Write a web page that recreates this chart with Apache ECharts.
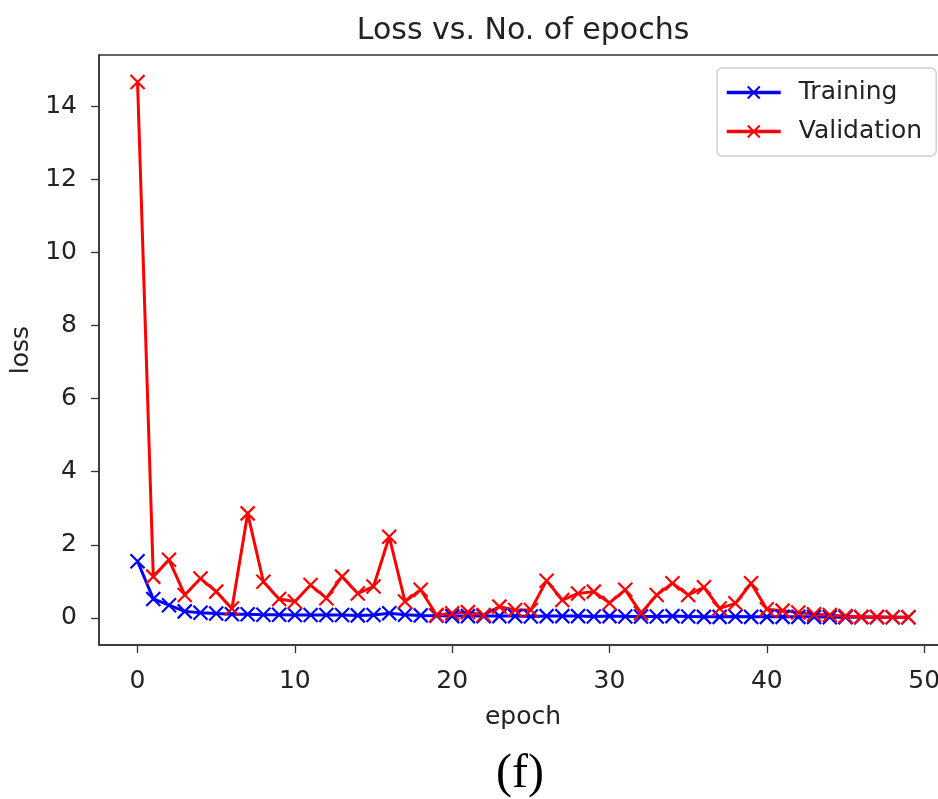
<!DOCTYPE html>
<html>
<head>
<meta charset="utf-8">
<script src="https://cdn.jsdelivr.net/npm/echarts@6/dist/echarts.min.js"></script>
<style>
  html, body { margin:0; padding:0; background:#fff; }
  #main { width:938px; height:799px; }
</style>
</head>
<body>
<div id="main"></div>
<script>
// epochs 0..49
var epochs = [];
for (var i = 0; i < 50; i++) epochs.push(i);

// training loss
var trainLoss = [1.55,0.52,0.35,0.18,0.14,0.12,0.10,0.10,0.09,0.09,
                 0.08,0.08,0.08,0.08,0.07,0.08,0.13,0.09,0.07,0.06,
                 0.05,0.05,0.05,0.05,0.05,0.04,0.05,0.05,0.05,0.04,
                 0.05,0.04,0.04,0.04,0.05,0.04,0.03,0.03,0.04,0.03,
                 0.03,0.03,0.03,0.03,0.02,0.02,0.02,0.02,0.02,0.02];
// validation loss
var valLoss = [14.66,1.13,1.59,0.63,1.08,0.72,0.26,2.86,0.99,0.52,
               0.45,0.90,0.54,1.13,0.67,0.86,2.22,0.45,0.77,0.08,
               0.13,0.16,0.08,0.31,0.22,0.22,1.02,0.49,0.67,0.72,
               0.41,0.77,0.13,0.63,0.95,0.63,0.84,0.26,0.40,0.95,
               0.24,0.20,0.15,0.10,0.08,0.05,0.03,0.03,0.02,0.02];

var xTicks = [0,10,20,30,40,50];
var yTicks = [0,2,4,6,8,10,12,14];

var crossIcon = 'path://M0,0L10,10M10,0L0,10';
var txtColor = '#222';
var font = 'DejaVu Sans, sans-serif';

//把数组变成 [epoch, value]
function pairs(arr){
  var out = [];
  for (var i = 0; i < arr.length; i++) out.push([epochs[i], arr[i]]);
  return out;
}

var chart = echarts.init(document.getElementById('main'));
var option = {
  backgroundColor:'#fff',
  animation:false,
  title:{
    text:'Loss vs. No. of epochs',
    left:518, top:11, textAlign:'center',
    textStyle:{fontFamily:font, fontSize:30, fontWeight:'normal', color:txtColor}
  },
  legend:{
    orient:'vertical',
    left:717, top:68,
    padding:[12,14,12,8],
    itemGap:14,
    itemWidth:54, itemHeight:15,
    backgroundColor:'#fff',
    borderColor:'#d0d0d0', borderWidth:1.5, borderRadius:5,
    lineStyle:{width:3.5},
    textStyle:{fontFamily:font, fontSize:25, color:txtColor, padding:[0,0,0,13]},
    data:['Training','Validation']
  },
  grid:{
    left:99, top:55, width:848, height:590,
    outerBoundsMode:'none', containLabel:false,
    show:true, borderColor:'#333', borderWidth:1.5, backgroundColor:'transparent'
  },
  xAxis:{
    type:'value', min:-2.45, max:51.45,
    name:'epoch', nameLocation:'middle', nameGap:60,
    nameTextStyle:{fontFamily:font, fontSize:25, color:txtColor},
    axisLine:{show:true, onZero:false, lineStyle:{color:'#333', width:1.5}},
    axisTick:{show:true, length:8, lineStyle:{color:'#333', width:1.3}, customValues:xTicks},
    axisLabel:{fontFamily:font, fontSize:25, color:txtColor, margin:24, customValues:xTicks},
    splitLine:{show:false}
  },
  yAxis:{
    type:'value', min:-0.74, max:15.4,
    name:'loss', nameLocation:'middle', nameGap:64, nameRotate:90,
    nameTextStyle:{fontFamily:font, fontSize:25, color:txtColor},
    axisLine:{show:true, onZero:false, lineStyle:{color:'#333', width:1.5}},
    axisTick:{show:true, length:8, lineStyle:{color:'#333', width:1.3}, customValues:yTicks},
    axisLabel:{fontFamily:font, fontSize:25, color:txtColor, margin:22, customValues:yTicks},
    splitLine:{show:false}
  },
  graphic:[{
    type:'text', left:496, top:750,
    style:{text:'(f)', font:'48px "Liberation Serif", serif', fill:'#000'}
  }],
  series:[
    {
      name:'Training', type:'line', data:pairs(trainLoss),
      symbol:crossIcon, symbolSize:14, showAllSymbol:true,
      lineStyle:{color:'#0000ff', width:3},
      itemStyle:{color:'#0000ff', borderColor:'#0000ff', borderWidth:2.2}
    },
    {
      name:'Validation', type:'line', data:pairs(valLoss),
      symbol:crossIcon, symbolSize:14, showAllSymbol:true,
      lineStyle:{color:'#ff0000', width:3},
      itemStyle:{color:'#ff0000', borderColor:'#ff0000', borderWidth:2.2}
    }
  ]
};
chart.setOption(option);
</script>
</body>
</html>
